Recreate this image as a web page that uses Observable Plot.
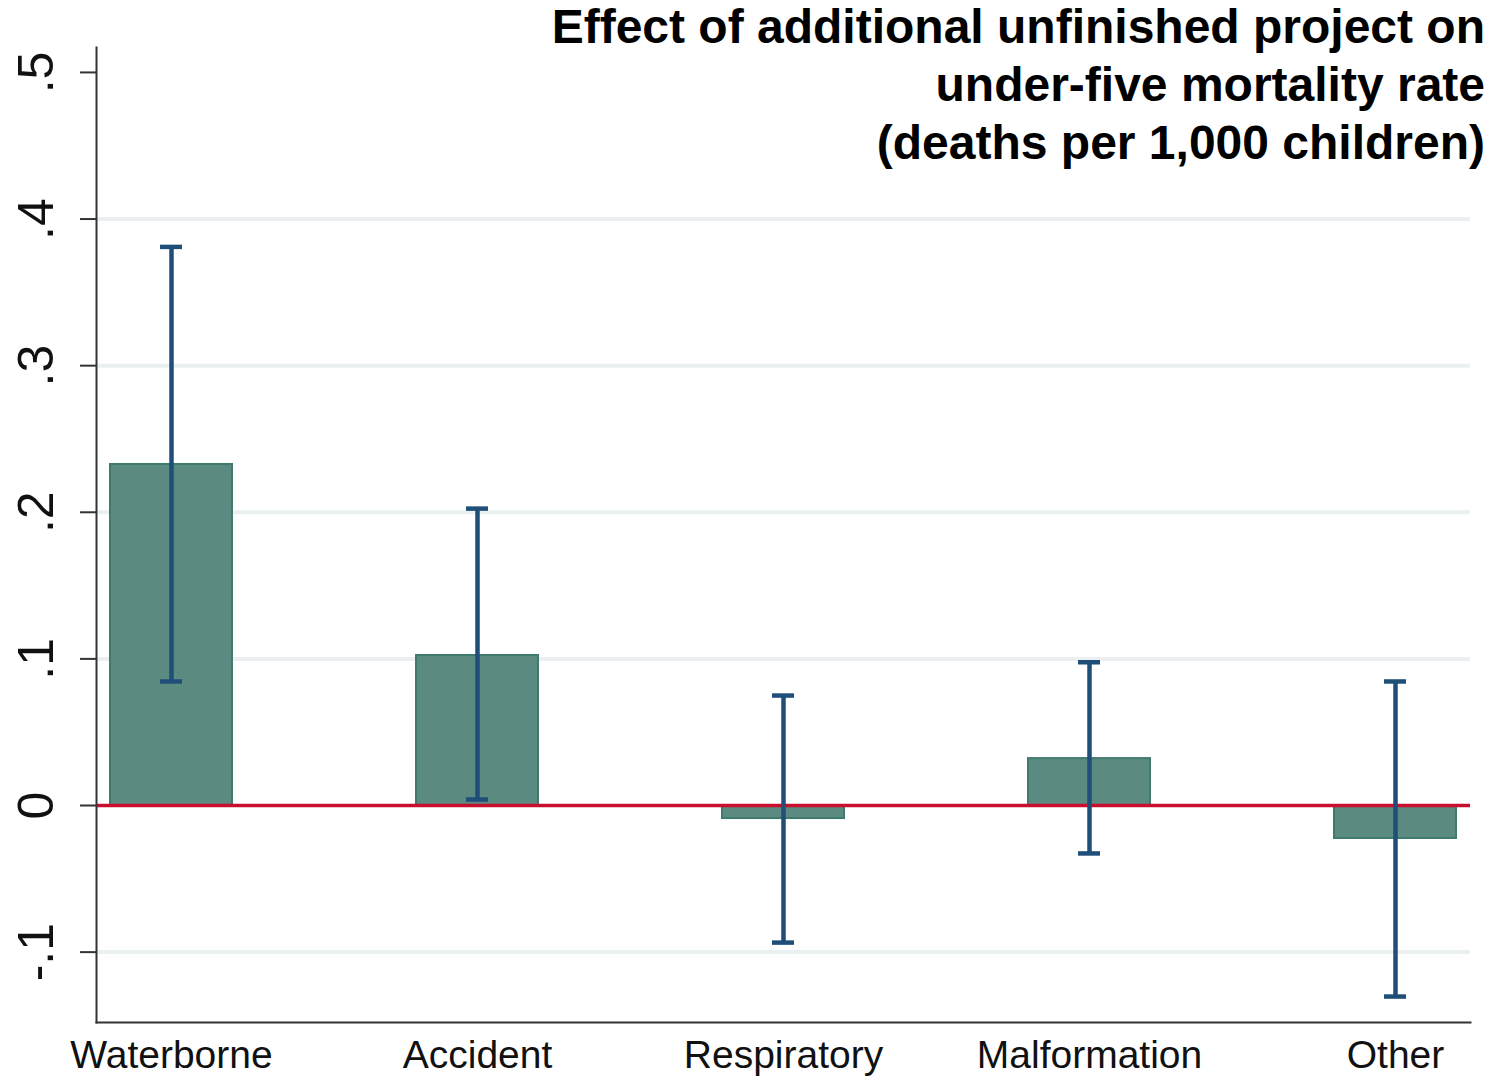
<!DOCTYPE html>
<html>
<head>
<meta charset="utf-8">
<script src="https://cdn.jsdelivr.net/npm/d3@7"></script>
<script src="https://cdn.jsdelivr.net/npm/@observablehq/plot@0.6"></script>
<style>
  html, body { margin: 0; padding: 0; background: #fff; }
  #wrap { position: relative; width: 1496px; height: 1078px; }
  #title {
    position: absolute; right: 11px; top: -2px;
    font-family: "Liberation Sans", Arial, sans-serif; font-weight: bold;
    font-size: 48px; line-height: 58px; text-align: right; color: #000;
    z-index: 2;
  }
</style>
</head>
<body>
<div id="wrap">
  <div id="title">Effect of additional unfinished project on<br>under-five mortality rate<br>(deaths per 1,000 children)</div>
  <div id="chart"></div>
</div>
<script>
const categories = ["Waterborne", "Accident", "Respiratory", "Malformation", "Other"];
const estimates = [0.2326, 0.1023, -0.0089, 0.0320, -0.0225];
const ciLow = [0.0846, 0.0041, -0.0935, -0.0327, -0.1303];
const ciHigh = [0.3810, 0.2025, 0.0750, 0.0977, 0.0846];
const yTicks = [-0.1, 0, 0.1, 0.2, 0.3, 0.4, 0.5];
const gridTicks = [-0.1, 0.1, 0.2, 0.3, 0.4];

const data = categories.map((c, i) => ({cat: c, est: estimates[i], lo: ciLow[i], hi: ciHigh[i]}));
const fmt = d => d === 0 ? "0" : d3.format(".1f")(d).replace("\u2212", "-").replace("0.", ".");

const chart = Plot.plot({
  width: 1496,
  height: 1078,
  marginLeft: 96,
  marginRight: 26,
  marginTop: 47,
  marginBottom: 56,
  style: {fontFamily: "'Liberation Sans', Arial, sans-serif", background: "#fff"},
  x: {domain: categories, type: "band", paddingInner: 0.6, paddingOuter: 0.045, label: null},
  y: {domain: [-0.148, 0.517], label: null},
  marks: [
    Plot.gridY(gridTicks, {stroke: "#eaf0f2", strokeOpacity: 1, strokeWidth: 4}),
    Plot.axisY(yTicks, {tickSize: 16, tickFormat: () => "", stroke: "#333", strokeWidth: 2, label: null}),
    Plot.text(yTicks, {y: d => d, text: d => fmt(d), frameAnchor: "left", dx: -60, rotate: -90,
      textAnchor: "middle", lineAnchor: "middle", fontSize: 50, fill: "#111"}),
    Plot.axisX({tickSize: 0, tickPadding: 18, fontSize: 39, fill: "#111", label: null}),
    Plot.barY(data, {x: "cat", y: "est", fill: "#5a8a80", stroke: "#3f7a6e", strokeWidth: 2}),
    Plot.ruleY([0], {stroke: "#c8102e", strokeWidth: 3.5}),
    Plot.ruleX(data, {x: "cat", y1: "lo", y2: "hi", stroke: "#1f4e79", strokeWidth: 4.5}),
    Plot.tickY(data, {x: "cat", y: "lo", stroke: "#1f4e79", strokeWidth: 4.5, insetLeft: 50, insetRight: 50}),
    Plot.tickY(data, {x: "cat", y: "hi", stroke: "#1f4e79", strokeWidth: 4.5, insetLeft: 50, insetRight: 50}),
    Plot.frame({anchor: "left", stroke: "#333", strokeWidth: 2}),
    Plot.frame({anchor: "bottom", stroke: "#333", strokeWidth: 2})
  ]
});
document.getElementById("chart").appendChild(chart);
</script>
</body>
</html>
